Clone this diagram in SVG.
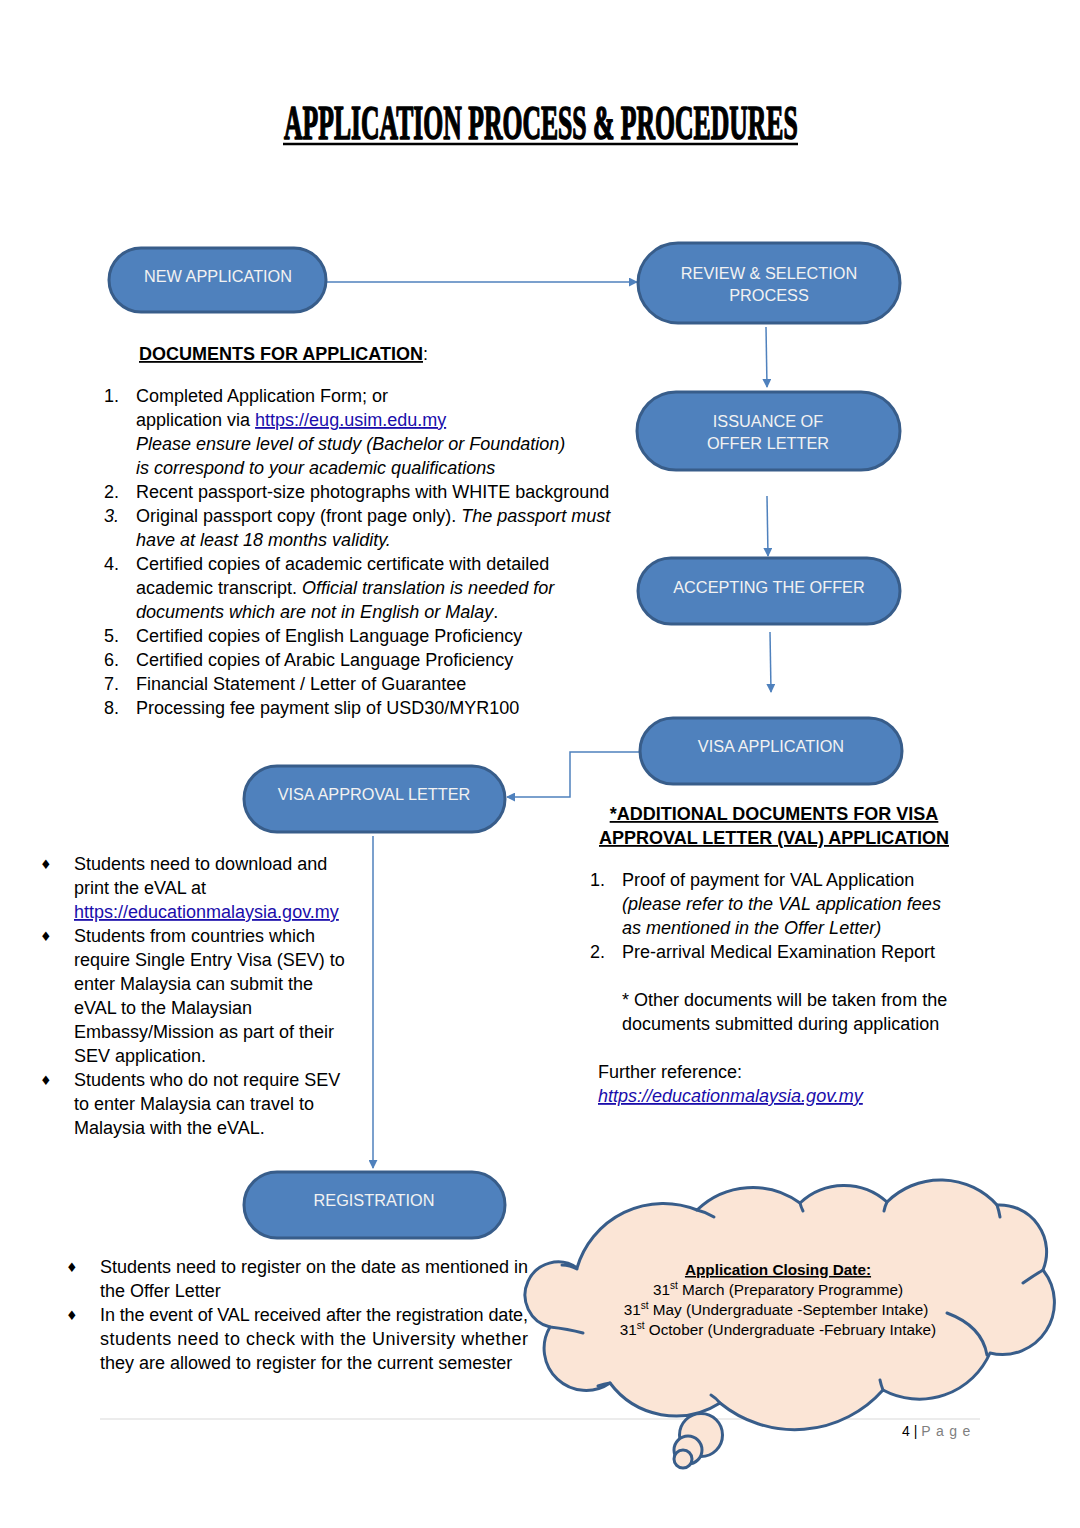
<svg xmlns="http://www.w3.org/2000/svg" width="1080" height="1528" viewBox="0 0 1080 1528">
<style>
.node rect{fill:#4f81bd;stroke:#385d8a;stroke-width:3}
.nt{font-family:"Liberation Sans",Arial,sans-serif;font-size:16.3px;fill:#f2f2f2;text-anchor:middle}
.b{font-family:"Liberation Sans",Arial,sans-serif;font-size:18px;fill:#000}
.i{font-style:italic}
.bd{font-weight:bold}
.u{text-decoration:underline}
.lnk{fill:#1a0dab;text-decoration:underline}
.conn path{fill:none;stroke:#4f81bd;stroke-width:1.5}
.dia{font-family:"DejaVu Sans",sans-serif;font-size:13px;fill:#000}
.cl{font-family:"Liberation Sans",Arial,sans-serif;font-size:15.3px;fill:#000;text-anchor:middle}
.cloud{fill:#fbe5d6;stroke:#385d8a;stroke-width:3}
.crease{fill:none;stroke:#385d8a;stroke-width:3;stroke-linecap:round}
</style>
<defs>
<marker id="ah" viewBox="0 0 10 10" refX="9" refY="5" markerWidth="9" markerHeight="9" orient="auto" markerUnits="userSpaceOnUse">
<path d="M0,0 L10,5 L0,10 z" fill="#4f81bd"/>
</marker>
</defs>
<rect width="1080" height="1528" fill="#fff"/>

<!-- Title -->
<text transform="translate(284,139) scale(0.524,1)" x="0" y="0" font-family="Liberation Serif,serif" font-weight="bold" font-size="49" fill="#000" stroke="#000" stroke-width="1.6" stroke-linejoin="round">APPLICATION PROCESS &amp; PROCEDURES</text>
<line x1="283" y1="144" x2="798" y2="144" stroke="#000" stroke-width="2.5"/>

<!-- Connectors -->
<g id="connectors" class="conn">
<path d="M326,282 H637" marker-end="url(#ah)"/>
<path d="M766,327 L767,387" marker-end="url(#ah)"/>
<path d="M767,496 L768,556" marker-end="url(#ah)"/>
<path d="M770,632 L771,692" marker-end="url(#ah)"/>
<path d="M640,752 H570 V797 H507" marker-end="url(#ah)"/>
<path d="M373,836 V1168" marker-end="url(#ah)"/>
</g>

<!-- Nodes -->
<g id="new-application" class="node">
<rect x="109" y="248" width="217" height="64" rx="32"/>
<text class="nt" x="218" y="282">NEW APPLICATION</text>
</g>
<g id="review-selection" class="node">
<rect x="638" y="243" width="262" height="80" rx="40"/>
<text class="nt" x="769" y="279">REVIEW &amp; SELECTION</text>
<text class="nt" x="769" y="301">PROCESS</text>
</g>
<g id="issuance-offer" class="node">
<rect x="637" y="392" width="263" height="78" rx="39"/>
<text class="nt" x="768" y="427">ISSUANCE OF</text>
<text class="nt" x="768" y="449">OFFER LETTER</text>
</g>
<g id="accepting-offer" class="node">
<rect x="638" y="558" width="262" height="66" rx="33"/>
<text class="nt" x="769" y="593">ACCEPTING THE OFFER</text>
</g>
<g id="visa-application" class="node">
<rect x="640" y="718" width="262" height="66" rx="33"/>
<text class="nt" x="771" y="752">VISA APPLICATION</text>
</g>
<g id="visa-approval-letter" class="node">
<rect x="244" y="766" width="261" height="66" rx="33"/>
<text class="nt" x="374" y="800">VISA APPROVAL LETTER</text>
</g>
<g id="registration" class="node">
<rect x="244" y="1172" width="261" height="66" rx="33"/>
<text class="nt" x="374" y="1206">REGISTRATION</text>
</g>

<!-- Documents for application -->
<g id="documents-for-application">
<text class="b" x="139" y="360"><tspan class="bd u">DOCUMENTS FOR APPLICATION</tspan>:</text>
<text class="b" x="104" y="402">1.</text>
<text class="b" x="136" y="402">Completed Application Form; or</text>
<text class="b" x="136" y="426">application via <tspan class="lnk">https://eug.usim.edu.my</tspan></text>
<text class="b i" x="136" y="450">Please ensure level of study (Bachelor or Foundation)</text>
<text class="b i" x="136" y="474">is correspond to your academic qualifications</text>
<text class="b" x="104" y="498">2.</text>
<text class="b" x="136" y="498">Recent passport-size photographs with WHITE background</text>
<text class="b i" x="104" y="522">3.</text>
<text class="b" x="136" y="522">Original passport copy (front page only). <tspan class="i">The passport must</tspan></text>
<text class="b i" x="136" y="546">have at least 18 months validity.</text>
<text class="b" x="104" y="570">4.</text>
<text class="b" x="136" y="570">Certified copies of academic certificate with detailed</text>
<text class="b" x="136" y="594">academic transcript. <tspan class="i">Official translation is needed for</tspan></text>
<text class="b" x="136" y="618"><tspan class="i">documents which are not in English or Malay</tspan>.</text>
<text class="b" x="104" y="642">5.</text>
<text class="b" x="136" y="642">Certified copies of English Language Proficiency</text>
<text class="b" x="104" y="666">6.</text>
<text class="b" x="136" y="666">Certified copies of Arabic Language Proficiency</text>
<text class="b" x="104" y="690">7.</text>
<text class="b" x="136" y="690">Financial Statement / Letter of Guarantee</text>
<text class="b" x="104" y="714">8.</text>
<text class="b" x="136" y="714">Processing fee payment slip of USD30/MYR100</text>
</g>

<!-- VAL notes -->
<g id="val-notes">
<text class="dia" x="40" y="869">♦</text>
<text class="b" x="74" y="870">Students need to download and</text>
<text class="b" x="74" y="894">print the eVAL at</text>
<text class="b lnk" x="74" y="918">https://educationmalaysia.gov.my</text>
<text class="dia" x="40" y="941">♦</text>
<text class="b" x="74" y="942">Students from countries which</text>
<text class="b" x="74" y="966">require Single Entry Visa (SEV) to</text>
<text class="b" x="74" y="990">enter Malaysia can submit the</text>
<text class="b" x="74" y="1014">eVAL to the Malaysian</text>
<text class="b" x="74" y="1038">Embassy/Mission as part of their</text>
<text class="b" x="74" y="1062">SEV application.</text>
<text class="dia" x="40" y="1085">♦</text>
<text class="b" x="74" y="1086">Students who do not require SEV</text>
<text class="b" x="74" y="1110">to enter Malaysia can travel to</text>
<text class="b" x="74" y="1134">Malaysia with the eVAL.</text>
</g>

<!-- Additional documents -->
<g id="additional-documents">
<text class="b bd u" x="774" y="820" text-anchor="middle">*ADDITIONAL DOCUMENTS FOR VISA</text>
<text class="b bd u" x="774" y="844" text-anchor="middle">APPROVAL LETTER (VAL) APPLICATION</text>
<text class="b" x="590" y="886">1.</text>
<text class="b" x="622" y="886">Proof of payment for VAL Application</text>
<text class="b i" x="622" y="910">(please refer to the VAL application fees</text>
<text class="b i" x="622" y="934">as mentioned in the Offer Letter)</text>
<text class="b" x="590" y="958">2.</text>
<text class="b" x="622" y="958">Pre-arrival Medical Examination Report</text>
<text class="b" x="622" y="1006">* Other documents will be taken from the</text>
<text class="b" x="622" y="1030">documents submitted during application</text>
<text class="b" x="598" y="1078">Further reference:</text>
<text class="b i lnk" x="598" y="1102">https://educationmalaysia.gov.my</text>
</g>

<!-- Registration notes -->
<g id="registration-notes">
<text class="dia" x="66" y="1272">♦</text>
<text class="b" x="100" y="1273" textLength="428" lengthAdjust="spacing">Students need to register on the date as mentioned in</text>
<text class="b" x="100" y="1297">the Offer Letter</text>
<text class="dia" x="66" y="1320">♦</text>
<text class="b" x="100" y="1321" textLength="428" lengthAdjust="spacing">In the event of VAL received after the registration date,</text>
<text class="b" x="100" y="1345" textLength="428" lengthAdjust="spacing">students need to check with the University whether</text>
<text class="b" x="100" y="1369">they are allowed to register for the current semester</text>
</g>

<!-- Footer -->
<line x1="100" y1="1419" x2="980" y2="1419" stroke="#d9d9d9" stroke-width="1.2"/>
<text x="902" y="1436" font-family="Liberation Sans,Arial,sans-serif" font-size="14" fill="#000">4 | <tspan fill="#7f7f7f" letter-spacing="5.5">Page</tspan></text>

<!-- Cloud callout -->
<g id="closing-date-cloud">
<path class="cloud" stroke-linejoin="round" d="M577,1268 A90,90 0 0 1 697,1210 A80,80 0 0 1 800,1203 A64,64 0 0 1 887,1202 A76,76 0 0 1 997,1205 A47,47 0 0 1 1043,1270 A52,52 0 0 1 990,1353 A77,77 0 0 1 883,1390 A118,118 0 0 1 720,1403 A82,82 0 0 1 610,1383 A42,42 0 0 1 550,1327 A33,33 0 1 1 577,1268 Z"/>
<path class="crease" d="M577,1269 Q570,1265 562,1265"/>
<path class="crease" d="M697,1210 Q706,1212 714,1217"/>
<path class="crease" d="M800,1203 Q801,1207 803,1211"/>
<path class="crease" d="M887,1202 Q885,1206 884,1211"/>
<path class="crease" d="M997,1205 Q999,1211 1000,1217"/>
<path class="crease" d="M1043,1270 Q1033,1276 1023,1283"/>
<path class="crease" d="M947,1313 Q982,1326 987,1355"/>
<path class="crease" d="M883,1390 Q881,1385 880,1380"/>
<path class="crease" d="M720,1403 Q716,1398 711,1395"/>
<path class="crease" d="M610,1383 Q604,1384 598,1386"/>
<path class="crease" d="M550,1327 Q568,1329 583,1333"/>
<circle class="cloud" cx="701" cy="1435" r="21.5"/>
<circle class="cloud" cx="688" cy="1450" r="14"/>
<circle class="cloud" cx="683" cy="1459" r="9"/>
<text class="cl bd u" x="778" y="1275">Application Closing Date:</text>
<text class="cl" x="778" y="1295">31<tspan font-size="10" dy="-6">st</tspan><tspan dy="6"> March (Preparatory Programme)</tspan></text>
<text class="cl" x="776" y="1315">31<tspan font-size="10" dy="-6">st</tspan><tspan dy="6"> May (Undergraduate -September Intake)</tspan></text>
<text class="cl" x="778" y="1335">31<tspan font-size="10" dy="-6">st</tspan><tspan dy="6"> October (Undergraduate -February Intake)</tspan></text>
</g>
</svg>
